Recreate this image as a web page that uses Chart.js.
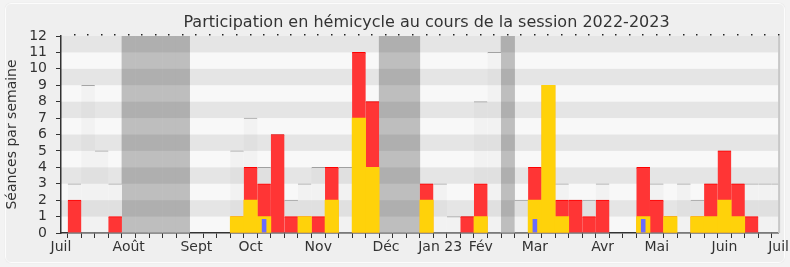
<!DOCTYPE html>
<html><head><meta charset="utf-8">
<script src="https://cdn.jsdelivr.net/npm/chart.js@4.4.0/dist/chart.umd.min.js"></script>
<style>
html,body{margin:0;padding:0;background:#f3f3f3;width:790px;height:267px;overflow:hidden;}
#frame{position:absolute;left:5px;top:3px;width:778px;height:258px;background:#efefef;border:1px solid #fcfcfc;border-radius:6px;box-shadow:0 0 1px #d8d8d8;}
#wrap{position:absolute;left:0;top:0;width:790px;height:267px;}
</style></head><body>
<div id="frame"></div>
<div id="wrap"><canvas id="c" width="790" height="267"></canvas></div>
<script>
// Weeks of the 2022-2023 session (index 0 = start of July 2022)
const weeks = ['0','1','2','3','4','5','6','7','8','9','10','11','12','13','14','15','16','17','18','19','20','21','22','23','24','25','26','27','28','29','30','31','32','33','34','35','36','37','38','39','40','41','42','43','44','45','46','47','48','49','50','51','52','53'];
// Month tick labels and the week index where each is shown
const monthLabels = ['Juil','Août','Sept','Oct','Nov','Déc','Jan 23','Fév','Mar','Avr','Mai','Juin','Juil'];
const monthWeeks  = [0, 5, 10, 14, 19, 24, 28, 31, 35, 40, 44, 49, 53];
// Présences en hémicycle (séances par semaine)
const presences = [0,2,0,0,1,0,0,0,0,0,0,0,0,1,4,3,6,1,1,1,4,0,11,8,0,0,0,3,0,0,1,3,0,0,0,4,9,2,2,1,2,0,0,4,2,1,0,1,3,5,3,1,0,0];
// Participations (interventions)
const participations = [0,0,0,0,0,0,0,0,0,0,0,0,0,1,2,1,0,0,1,0,2,0,7,4,0,0,0,2,0,0,0,1,0,0,0,2,9,1,0,0,0,0,0,1,0,1,0,1,1,2,1,0,0,0];
// Questions orales
const questions = [0,0,0,0,0,0,0,0,0,0,0,0,0,0,0,0.85,0,0,0,0,0,0,0,0,0,0,0,0,0,0,0,0,0,0,0,0.85,0,0,0,0,0,0,0,0.85,0,0,0,0,0,0,0,0,0,0];
// Séances totales de la semaine
const seances = [0,3,9,5,3,0,0,0,0,0,0,0,0,5,7,4,6,2,3,4,4,4,11,8,0,0,0,3,3,1,1,8,11,0,2,4,9,3,2,2,3,0,0,4,3,1,3,2,3,5,3,3,3,3];
// Vacances parlementaires
const vacances = [0,0,0,0,0,12,12,12,12,12,0,0,0,0,0,0,0,0,0,0,0,0,0,0,12,12,12,0,0,0,0,0,0,12,0,0,0,0,0,0,0,0,0,0,0,0,0,0,0,0,0,0,0,0];

const nz = a => a.map(v => v === 0 ? null : v);
const FONT = 'DejaVu Sans';
Chart.defaults.font.family = FONT;
Chart.defaults.color = '#333';

const RED_INDEX = 2;
const common = {grouped:false, barPercentage:1, categoryPercentage:1, borderSkipped:false};

const decor = {
  id: 'decor',
  beforeDraw(chart) {
    const {ctx, chartArea:a} = chart;
    ctx.save();
    ctx.fillStyle = '#F8F8F8';
    ctx.fillRect(a.left, a.top, a.right - a.left, a.bottom - a.top);
    ctx.restore();
  },
  beforeDatasetDraw(chart, args) {
    if (args.index !== RED_INDEX) return;
    const {ctx, chartArea:a, scales:{y}} = chart;
    ctx.save();
    ctx.fillStyle = 'rgba(0,0,0,0.075)';
    for (let v = 1; v < 12; v += 2) {
      const y1 = y.getPixelForValue(v + 1), y0 = y.getPixelForValue(v);
      ctx.fillRect(a.left, y1, a.right - a.left, y0 - y1);
    }
    ctx.restore();
  },
  afterDraw(chart) {
    const {ctx, chartArea:a, scales:{x}} = chart;
    ctx.save();
    ctx.fillStyle = '#c8c8c8';
    ctx.fillRect(a.right - 0.5, a.top, 2, a.bottom - a.top);
    ctx.fillStyle = '#222';
    for (let i = 1; i < weeks.length; i++) {
      const px = x.getPixelForValue(i);
      ctx.fillRect(Math.round(px) - 1, a.top - 2, 1.5, 1.5);
    }
    ctx.fillStyle = '#333';
    ctx.font = '16px "' + FONT + '"';
    ctx.textAlign = 'center';
    ctx.textBaseline = 'alphabetic';
    ctx.fillText('Participation en hémicycle au cours de la session 2022-2023', 426.5, 26.5);
    ctx.restore();
  }
};

new Chart(document.getElementById('c'), {
  type: 'bar',
  data: {
    labels: weeks,
    datasets: [
      Object.assign({label:'Vacances parlementaires', data: nz(vacances), backgroundColor:'#BEBEBE', borderWidth:0, order:6}, common),
      Object.assign({label:'Séances', data: nz(seances), backgroundColor:'#F2F2F2', borderColor:'#A8A8A8', borderWidth:{top:1,left:0,right:0,bottom:0}, order:5}, common),
      Object.assign({label:'Présences', data: nz(presences), backgroundColor:'#FF3535', borderColor:'#FF0000', borderWidth:{top:1,left:0,right:0,bottom:0}, order:3}, common),
      Object.assign({label:'Participations', data: nz(participations), backgroundColor:'#FFD20A', borderWidth:0, order:2}, common),
      Object.assign({label:'Questions orales', data: nz(questions), backgroundColor:'#6B6BFF', borderWidth:0, order:0}, common, {barPercentage:0.34})
    ]
  },
  options: {
    responsive: false,
    animation: false,
    layout: {autoPadding: false, padding: {top: 36, right: 10, left: 0, bottom: 0}},
    plugins: {legend: {display: false}, tooltip: {enabled: false}, title: {display: false}},
    scales: {
      x: {
        type: 'category',
        offset: false,
        grid: {display: true, drawOnChartArea: false, drawTicks: true, tickLength: 5, color: '#333', tickColor: '#333'},
        border: {display: true, color: '#333', width: 1.5},
        ticks: {autoSkip: false, maxRotation: 0, minRotation: 0, padding: 1, color: '#333', font: {size: 14},
          callback: (v, i) => { const j = monthWeeks.indexOf(i); return j >= 0 ? monthLabels[j] : ''; }},
        afterFit: s => { s.height = 34; }
      },
      y: {
        min: 0, max: 12,
        grid: {display: true, drawOnChartArea: false, drawTicks: true, tickLength: 5, color: '#333', tickColor: '#333'},
        border: {display: true, color: '#333', width: 1.5},
        ticks: {stepSize: 1, autoSkip: false, padding: 9, color: '#333', font: {size: 14}},
        title: {display: true, text: 'Séances par semaine', color: '#333', font: {size: 14}, padding: {top: 4, bottom: 0}},
        afterFit: s => { s.width = 61; }
      }
    }
  },
  plugins: [decor]
});
</script>
</body></html>
